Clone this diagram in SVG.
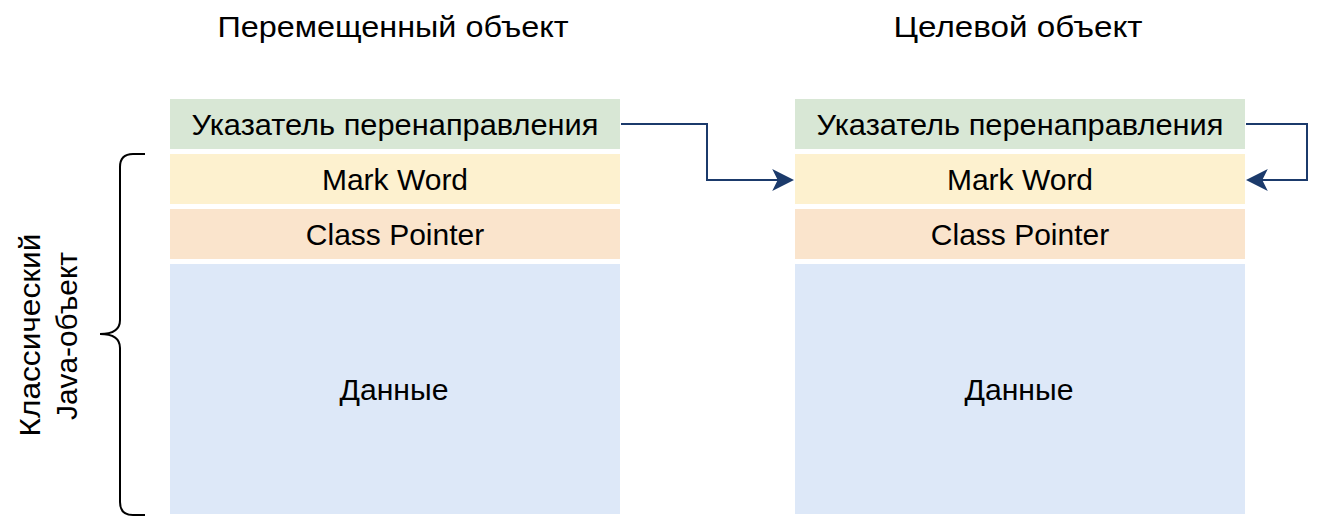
<svg xmlns="http://www.w3.org/2000/svg" width="1320" height="528" viewBox="0 0 1320 528">
<style>
text{font-family:"Liberation Sans",Arial,sans-serif;font-size:30px;fill:#000}
.g{fill:#d8e7d5}.y{fill:#fdf1cf}.o{fill:#fae4cc}.b{fill:#dde8f8}
.c{fill:none;stroke:#1b3a6b;stroke-width:2}
</style>
<defs>
<marker id="ah" viewBox="0 0 20 20" refX="18" refY="10" markerWidth="22" markerHeight="22" markerUnits="userSpaceOnUse" orient="auto">
<path d="M0,0 L20,10 L0,20 L5,10 Z" fill="#1b3a6b"/>
</marker>
</defs>
<text x="393" y="37" text-anchor="middle" textLength="351" lengthAdjust="spacingAndGlyphs">Перемещенный объект</text>
<text x="1018" y="37" text-anchor="middle" textLength="249" lengthAdjust="spacingAndGlyphs">Целевой объект</text>
<g id="left">
<g id="l-fwd"><rect class="g" x="170" y="99" width="450" height="50"/><text x="395" y="135" text-anchor="middle" textLength="407" lengthAdjust="spacingAndGlyphs">Указатель перенаправления</text></g>
<g id="l-mark"><rect class="y" x="170" y="154" width="450" height="50"/><text x="395" y="190" text-anchor="middle">Mark Word</text></g>
<g id="l-class"><rect class="o" x="170" y="209" width="450" height="50"/><text x="395" y="245" text-anchor="middle">Class Pointer</text></g>
<g id="l-data"><rect class="b" x="170" y="264" width="450" height="250"/><text x="394" y="400" text-anchor="middle" textLength="109" lengthAdjust="spacingAndGlyphs">Данные</text></g>
</g>
<g id="right">
<g id="r-fwd"><rect class="g" x="795" y="99" width="450" height="50"/><text x="1020" y="135" text-anchor="middle" textLength="407" lengthAdjust="spacingAndGlyphs">Указатель перенаправления</text></g>
<g id="r-mark"><rect class="y" x="795" y="154" width="450" height="50"/><text x="1020" y="190" text-anchor="middle">Mark Word</text></g>
<g id="r-class"><rect class="o" x="795" y="209" width="450" height="50"/><text x="1020" y="245" text-anchor="middle">Class Pointer</text></g>
<g id="r-data"><rect class="b" x="795" y="264" width="450" height="250"/><text x="1019" y="400" text-anchor="middle" textLength="109" lengthAdjust="spacingAndGlyphs">Данные</text></g>
</g>
<g id="brace">
<path d="M145,154 L133,154 Q120,154 120,167 L120,320 Q120,334 100,334 Q120,334 120,348 L120,502 Q120,515 133,515 L145,515" fill="none" stroke="#000" stroke-width="2"/>
<text transform="translate(40,335) rotate(-90)" text-anchor="middle" textLength="203" lengthAdjust="spacingAndGlyphs">Классический</text>
<text transform="translate(77,336) rotate(-90)" text-anchor="middle" textLength="168" lengthAdjust="spacingAndGlyphs">Java-объект</text>
</g>
<g id="connectors">
<path class="c" d="M621,124 L707,124 L707,180 L792,180" marker-end="url(#ah)"/>
<path class="c" d="M1246,124 L1307,124 L1307,180 L1248,180" marker-end="url(#ah)"/>
</g>
</svg>
